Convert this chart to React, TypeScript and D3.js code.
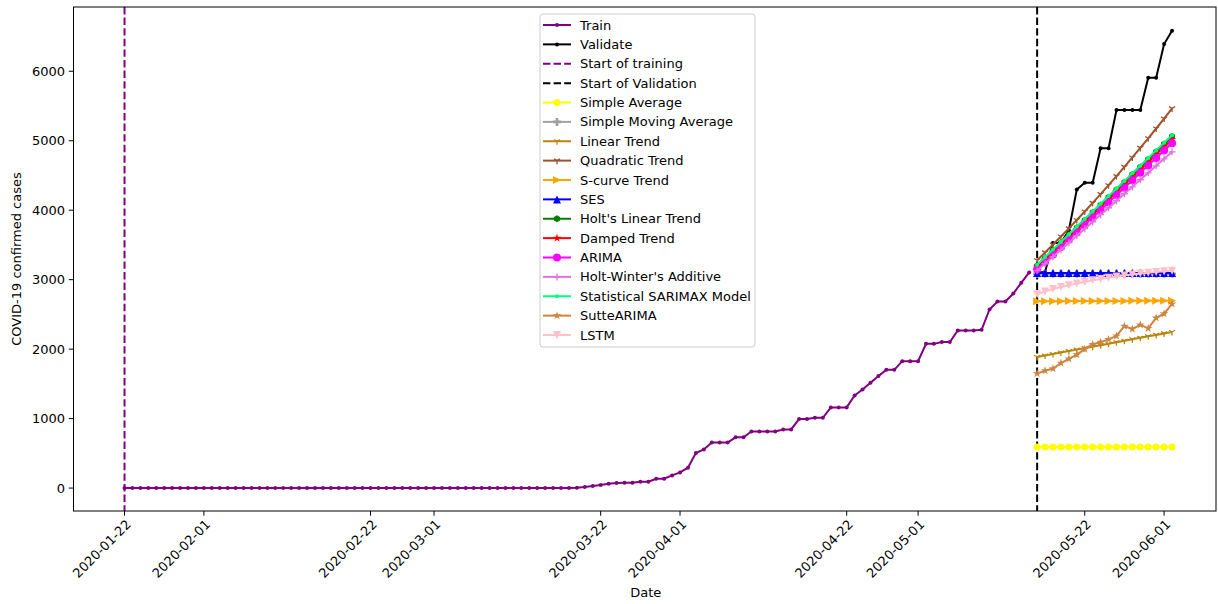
import React from "react";
import * as d3 from "d3";

// ---------- data ----------
const trainStart = "2020-01-22";
const validStart = "2020-05-16";
const xTickLabels = ["2020-01-22","2020-02-01","2020-02-22","2020-03-01","2020-03-22","2020-04-01","2020-04-22","2020-05-01","2020-05-22","2020-06-01"];
const yTicks = [0, 1000, 2000, 3000, 4000, 5000, 6000];

const trainValues = [
  0,0,0,0,0,0,0,0,0,0, 0,0,0,0,0,0,0,0,0,0,
  0,0,0,0,0,0,0,0,0,0, 0,0,0,0,0,0,0,0,0,0,
  0,0,0,0,0,0,0,0,0,0, 0,0,0,0,0,0,0,
  5,14,29,43,62,72,77,77,91,91,134,134,182,225,293,
  504,555,655,655,655,730,730,816,816,816,816,844,844,993,993,1012,1012,
  1161,1161,1161,1334,1420,1516,1612,1702,1702,1827,1827,1827,2076,2076,
  2101,2101,2269,2269,2269,2278,2571,2686,2686,2801,2954,3104
];
const validateValues = [3105,3112,3529,3529,3712,4298,4394,4394,4893,4893,5441,5441,5441,5441,5906,5906,6392,6583];
const simpleAverage = [590,590,590,590,590,590,590,590,590,590,590,590,590,590,590,590,590,590];
const simpleMovingAverage = [3085,3085,3085,3085,3085,3085,3085,3085,3085,3085,3085,3085,3085,3085,3085,3085,3085,3085];
const linearTrend = [1887,1908,1929,1951,1972,1993,2014,2036,2057,2078,2099,2120,2142,2163,2184,2205,2226,2247];
const quadraticTrend = [3280,3392,3505,3621,3739,3859,3981,4105,4232,4360,4491,4624,4759,4897,5035,5176,5319,5465];
const sCurveTrend = [2690,2690,2691,2691,2692,2692,2693,2693,2693,2694,2694,2694,2695,2695,2695,2695,2696,2696];
const ses = [3095,3095,3095,3095,3095,3095,3095,3095,3095,3095,3095,3095,3095,3095,3095,3095,3095,3095];
const holtLinear = [3200,3309,3419,3528,3638,3747,3857,3966,4076,4185,4295,4404,4514,4623,4733,4842,4952,5061];
const dampedTrend = [3180,3288,3396,3505,3613,3721,3829,3938,4046,4154,4262,4371,4479,4587,4695,4804,4912,5020];
const arima = [3150,3257,3364,3470,3577,3684,3791,3897,4004,4111,4218,4324,4431,4538,4645,4751,4858,4965];
const holtWinter = [3130,3231,3331,3432,3532,3633,3734,3834,3935,4035,4136,4237,4337,4438,4538,4639,4740,4840];
const sarimax = [3215,3325,3434,3544,3654,3764,3873,3983,4093,4203,4312,4422,4532,4641,4751,4861,4971,5080];
const sutteArima = [1650,1690,1720,1800,1860,1920,2000,2070,2100,2140,2190,2330,2290,2350,2300,2450,2510,2650];
const lstm = [2790,2830,2865,2895,2920,2945,2968,2990,3010,3028,3045,3060,3075,3088,3100,3110,3120,3128];

const forecastNames = ["Simple Average","Simple Moving Average","Linear Trend","Quadratic Trend","S-curve Trend","SES","Holt's Linear Trend","Damped Trend","ARIMA","Holt-Winter's Additive","Statistical SARIMAX Model","SutteARIMA","LSTM"];
const forecastValues = [simpleAverage, simpleMovingAverage, linearTrend, quadraticTrend, sCurveTrend, ses, holtLinear, dampedTrend, arima, holtWinter, sarimax, sutteArima, lstm];

// ---------- styles ----------
const forecastStyles = [
  { color: "#ffff00", marker: "circle", size: 7 },
  { color: "#a0a0a0", marker: "Pfill", size: 8 },
  { color: "#b8860b", marker: "tri_down", size: 7 },
  { color: "#a0522d", marker: "tri_down", size: 7 },
  { color: "#ffa500", marker: "triRight", size: 8 },
  { color: "#0000ff", marker: "triUp", size: 8 },
  { color: "#008000", marker: "hexagon", size: 7 },
  { color: "#ff0000", marker: "star", size: 9 },
  { color: "#ff00ff", marker: "circle", size: 8 },
  { color: "#e070e0", marker: "plus", size: 7 },
  { color: "#00ff7f", marker: "dot", size: 4 },
  { color: "#cd853f", marker: "star", size: 9 },
  { color: "#ffc0cb", marker: "triDown", size: 8 },
];

const W = 1218, H = 604;
const L = 73.5, R = 1216, T = 7, B = 511;
const DAY = 864e5;
const FONT = "DejaVu Sans, sans-serif";

function markerPath(shape: string, s: number): string | null {
  const h = s / 2;
  switch (shape) {
    case "triUp": return `M0,${-h}L${h},${h}L${-h},${h}Z`;
    case "triDown": return `M0,${h}L${h},${-h}L${-h},${-h}Z`;
    case "triRight": return `M${h},0L${-h},${h}L${-h},${-h}Z`;
    case "star": {
      const pts: string[] = [];
      for (let i = 0; i < 10; i++) {
        const r = i % 2 === 0 ? h : h * 0.381;
        const a = -Math.PI / 2 + (i * Math.PI) / 5;
        pts.push(`${(r * Math.cos(a)).toFixed(2)},${(r * Math.sin(a)).toFixed(2)}`);
      }
      return "M" + pts.join("L") + "Z";
    }
    case "hexagon": {
      const pts: string[] = [];
      for (let i = 0; i < 6; i++) {
        const a = -Math.PI / 2 + (i * Math.PI) / 3;
        pts.push(`${(h * Math.cos(a)).toFixed(2)},${(h * Math.sin(a)).toFixed(2)}`);
      }
      return "M" + pts.join("L") + "Z";
    }
    case "Pfill": {
      const t = h / 3;
      return `M${-t},${-h}H${t}V${-t}H${h}V${t}H${t}V${h}H${-t}V${t}H${-h}V${-t}H${-t}Z`;
    }
    default: return null;
  }
}

function Marker({ shape, x, y, color, size }: { shape: string; x: number; y: number; color: string; size: number }) {
  const h = size / 2;
  if (shape === "circle" || shape === "dot") {
    return <circle cx={x} cy={y} r={h} fill={color} />;
  }
  if (shape === "plus") {
    return <path d={`M${x - h},${y}H${x + h}M${x},${y - h}V${y + h}`} stroke={color} strokeWidth={1.3} />;
  }
  if (shape === "tri_down") {
    const c = Math.cos(Math.PI / 6) * h, s2 = h / 2;
    return <path d={`M${x},${y}V${y + h}M${x},${y}L${x - c},${y - s2}M${x},${y}L${x + c},${y - s2}`} stroke={color} strokeWidth={1.3} />;
  }
  const d = markerPath(shape, size);
  return <path d={d || ""} transform={`translate(${x},${y})`} fill={color} />;
}

export default function App() {
  const t0 = d3.utcParse("%Y-%m-%d")(trainStart)!.getTime();
  const tv = d3.utcParse("%Y-%m-%d")(validStart)!.getTime();
  const x = d3.scaleUtc().domain([new Date(t0 - 6.43 * DAY), new Date(t0 + 137.54 * DAY)]).range([L, R]);
  const y = d3.scaleLinear().domain([-330, 6925]).range([B, T]);

  const trainPts = trainValues.map((v, i) => [x(new Date(t0 + i * DAY)), y(v)] as [number, number]);
  const mkPts = (vals: number[]) => vals.map((v, i) => [x(new Date(tv + i * DAY)), y(v)] as [number, number]);
  const line = d3.line();

  const xStartTrain = x(new Date(t0));
  const xStartValid = x(new Date(tv));
  const parse = d3.utcParse("%Y-%m-%d");

  const legendItems: { name: string; color: string; kind: string; marker?: string; size?: number }[] = [
    { name: "Train", color: "#800080", kind: "line", marker: "dot", size: 4 },
    { name: "Validate", color: "#000000", kind: "line", marker: "dot", size: 4 },
    { name: "Start of training", color: "#800080", kind: "dash" },
    { name: "Start of Validation", color: "#000000", kind: "dash" },
    ...forecastNames.map((n, i) => ({ name: n, color: forecastStyles[i].color, kind: "line", marker: forecastStyles[i].marker, size: forecastStyles[i].size })),
  ];

  const dash = "7.4,3.2";

  return (
    <svg width={W} height={H} style={{ position: "absolute", left: 0, top: 0, background: "#fff" }} fontFamily={FONT}>
      <rect x={0} y={0} width={W} height={H} fill="#fff" />
      {/* train */}
      <path d={line(trainPts) || ""} fill="none" stroke="#800080" strokeWidth={2} />
      {trainPts.map((p, i) => <circle key={"t" + i} cx={p[0]} cy={p[1]} r={2} fill="#800080" />)}
      {/* validate */}
      <path d={line(mkPts(validateValues)) || ""} fill="none" stroke="#000" strokeWidth={2} />
      {mkPts(validateValues).map((p, i) => <circle key={"v" + i} cx={p[0]} cy={p[1]} r={2} fill="#000" />)}
      {/* vertical lines */}
      <line x1={xStartTrain} x2={xStartTrain} y1={T} y2={B} stroke="#800080" strokeWidth={2} strokeDasharray={dash} />
      <line x1={xStartValid} x2={xStartValid} y1={T} y2={B} stroke="#000" strokeWidth={2} strokeDasharray={dash} />
      {/* forecasts */}
      {forecastValues.map((vals, k) => {
        const st = forecastStyles[k];
        const pts = mkPts(vals);
        return (
          <g key={"f" + k}>
            <path d={line(pts) || ""} fill="none" stroke={st.color} strokeWidth={2} />
            {pts.map((p, i) => <Marker key={i} shape={st.marker} x={p[0]} y={p[1]} color={st.color} size={st.size} />)}
          </g>
        );
      })}
      {/* frame */}
      <rect x={L} y={T} width={R - L} height={B - T} fill="none" stroke="#000" strokeWidth={1} />
      {/* y axis */}
      {yTicks.map((v) => (
        <g key={"y" + v}>
          <line x1={L - 4.7} x2={L} y1={y(v)} y2={y(v)} stroke="#000" strokeWidth={1} />
          <text x={L - 8.5} y={y(v)} dy="0.35em" textAnchor="end" fontSize={13}>{v}</text>
        </g>
      ))}
      {/* x axis */}
      {xTickLabels.map((s) => {
        const xp = x(parse(s)!);
        return (
          <g key={"x" + s}>
            <line x1={xp} x2={xp} y1={B} y2={B + 4.7} stroke="#000" strokeWidth={1} />
            <text transform={`translate(${xp + 4},${B + 11}) rotate(-45)`} textAnchor="end" dy="0.35em" fontSize={13}>{s}</text>
          </g>
        );
      })}
      <text x={(L + R) / 2 + 1} y={597} textAnchor="middle" fontSize={13}>Date</text>
      <text transform={`translate(21,259) rotate(-90)`} textAnchor="middle" fontSize={13}>COVID-19 confirmed cases</text>
      {/* legend */}
      <rect x={540} y={14} width={215} height={333} rx={3} fill="#fff" fillOpacity={0.8} stroke="#cccccc" strokeWidth={1} />
      {legendItems.map((it, i) => {
        const ly = 25 + i * 19.375;
        return (
          <g key={"l" + i}>
            <line x1={543} x2={571} y1={ly} y2={ly} stroke={it.color} strokeWidth={2} strokeDasharray={it.kind === "dash" ? dash : undefined} />
            {it.marker && <Marker shape={it.marker} x={557} y={ly} color={it.color} size={it.size || 6} />}
            <text x={580} y={ly} dy="0.35em" fontSize={13}>{it.name}</text>
          </g>
        );
      })}
    </svg>
  );
}
